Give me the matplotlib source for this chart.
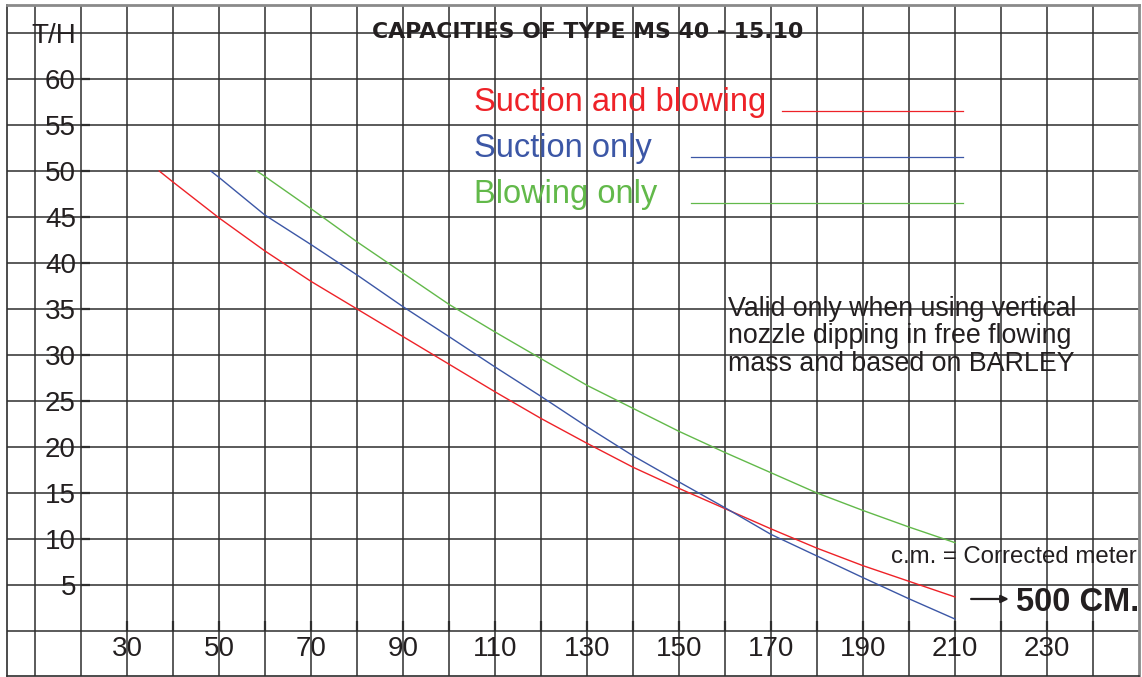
import matplotlib.pyplot as plt

plt.rcParams['font.family'] = ['Liberation Sans', 'DejaVu Sans']

# values (x = corrected meters, y = T/H)
x_both = [37, 40, 50, 60, 70, 80, 90, 100, 110, 120, 130, 140, 150, 160, 170, 180, 190, 200, 210]
y_both = [50, 48.8, 44.9, 41.3, 38.0, 35.0, 32.0, 29.0, 26.0, 23.1, 20.4, 17.8, 15.5, 13.3, 11.1, 9.0, 7.1, 5.4, 3.7]

x_suction = [48.2, 50, 60, 70, 80, 90, 100, 110, 120, 130, 140, 150, 160, 170, 180, 190, 200, 210]
y_suction = [50, 49.3, 45.2, 42.0, 38.7, 35.25, 32.0, 28.7, 25.5, 22.2, 19.05, 16.2, 13.4, 10.5, 8.15, 5.8, 3.5, 1.3]

x_blowing = [58.2, 60, 70, 80, 90, 100, 110, 120, 130, 140, 150, 160, 170, 180, 190, 200, 210]
y_blowing = [50, 49.4, 45.9, 42.3, 38.9, 35.5, 32.5, 29.6, 26.7, 24.2, 21.7, 19.4, 17.2, 15.0, 13.1, 11.3, 9.6]

x_ticks = [30, 50, 70, 90, 110, 130, 150, 170, 190, 210, 230]
y_ticks = [5, 10, 15, 20, 25, 30, 35, 40, 45, 50, 55, 60]

red = '#ee2228'
blue = '#3c57a6'
green = '#62b94a'
grid_col = '#2e2e2e'
txt_col = '#231f20'

fig = plt.figure(figsize=(11.42, 6.77), dpi=100)
ax = fig.add_axes([7 / 1142, 1 / 677, 1132 / 1142, 671 / 677])
ax.set_xlim(3.913, 250)
ax.set_ylim(-4.891, 68.04)
ax.set_xticks([])
ax.set_yticks([])

# grid
for xv in range(10, 250, 10):
    ax.axvline(xv, color=grid_col, lw=1.1, zorder=1)
for yv in range(0, 70, 5):
    ax.axhline(yv, color=grid_col, lw=1.1, zorder=1)

# small tick marks
ax.hlines(y_ticks, 20, 22, color=grid_col, lw=1.6, zorder=1)
ax.vlines(range(30, 250, 10), 0, 1.1, color=grid_col, lw=1.6, zorder=1)

ax.spines['left'].set_color(grid_col)
ax.spines['bottom'].set_color(grid_col)
ax.spines['top'].set_color('#8a8a8a')
ax.spines['right'].set_color('#8a8a8a')
ax.spines['top'].set_linewidth(2)
ax.spines['right'].set_linewidth(2)
ax.spines['left'].set_linewidth(1.2)
ax.spines['bottom'].set_linewidth(1.2)

# curves
ax.plot(x_both, y_both, color=red, lw=1, zorder=3)
ax.plot(x_suction, y_suction, color=blue, lw=1, zorder=3)
ax.plot(x_blowing, y_blowing, color=green, lw=1, zorder=3)

# axis labels
for xv in x_ticks:
    ax.text(xv, -1.92, str(xv), ha='center', va='center', fontsize=20,
            color=txt_col)
for yv in y_ticks:
    ax.text(18.9, yv - 0.33, str(yv), ha='right', va='center', fontsize=20,
            color=txt_col)
ax.text(18.9, 64.7, 'T/H', ha='right', va='center', fontsize=20,
        color=txt_col)

ax.text(130.2, 64.4, 'CAPACITIES OF TYPE MS 40 - 15.10', ha='center',
        va='baseline', fontsize=15.8, fontweight='bold', color=txt_col,
        family=['DejaVu Sans'])

# legend
ax.text(105.4, 56.5, 'Suction and blowing', color=red, fontsize=23.5,
        ha='left', va='baseline')
ax.text(105.4, 51.5, 'Suction only', color=blue, fontsize=23.5,
        ha='left', va='baseline')
ax.text(105.4, 46.5, 'Blowing only', color=green, fontsize=23.5,
        ha='left', va='baseline')
ax.plot([172.4, 211.7], [56.5, 56.5], color=red, lw=0.9)
ax.plot([152.6, 211.7], [51.5, 51.5], color=blue, lw=0.9)
ax.plot([152.6, 211.7], [46.5, 46.5], color=green, lw=0.9)

# notes
note = ['Valid only when using vertical',
        'nozzle dipping in free flowing',
        'mass and based on BARLEY']
for i, line in enumerate(note):
    ax.text(160.65, 34.24 - i * 2.97, line, fontsize=19.3, ha='left',
            va='baseline', color=txt_col)

ax.text(249.5, 7.4, 'c.m. = Corrected meter', fontsize=17.3, ha='right',
        va='baseline', color=txt_col)
ax.annotate('', xy=(221.7, 3.48), xytext=(213.5, 3.48),
            arrowprops=dict(arrowstyle='-|>', color=txt_col, lw=1.6,
                            mutation_scale=11, shrinkA=0, shrinkB=0))
ax.text(223.3, 2.17, '500 CM.', fontsize=23.5, fontweight='bold', ha='left',
        va='baseline', color=txt_col)

plt.savefig('out.png', dpi=100)
plt.close()
